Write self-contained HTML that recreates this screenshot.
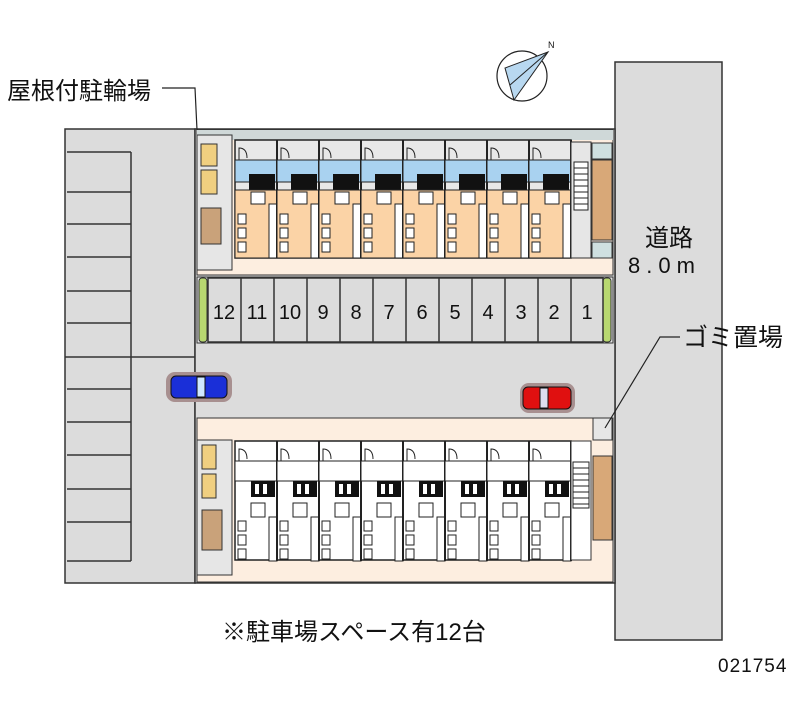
<!DOCTYPE html>
<html><head><meta charset="utf-8"><style>
body{margin:0;background:#fff;width:800px;height:727px;overflow:hidden}
svg{display:block}
text{font-family:"Liberation Sans","Noto Sans CJK JP",sans-serif;fill:#111}
</style></head><body>
<svg width="800" height="727" viewBox="0 0 800 727" xmlns="http://www.w3.org/2000/svg">
<defs>
<g id="tu">
  <rect x="0" y="20" width="42" height="22" fill="#a9d2f0" stroke="#222" stroke-width="1"/>
  <path d="M4 20 v-12 q8 0 8 10" fill="none" stroke="#222"/>
  <rect x="14" y="34" width="26" height="16" fill="#111"/>
  <rect x="0" y="50" width="42" height="68" fill="#fbd3a6" stroke="#222" stroke-width="1"/>
  <rect x="16" y="52" width="14" height="12" fill="#fff" stroke="#222"/>
  <rect x="3" y="74" width="8" height="10" fill="#fff" stroke="#222"/>
  <rect x="3" y="88" width="8" height="10" fill="#fff" stroke="#222"/>
  <rect x="3" y="102" width="8" height="10" fill="#fff" stroke="#222"/>
  <rect x="34" y="64" width="8" height="54" fill="#fff" stroke="#222"/>
  <line x1="42" y1="0" x2="42" y2="118" stroke="#222" stroke-width="2"/>
</g>
<g id="bu">
  <path d="M4 20 v-12 q8 0 8 10" fill="none" stroke="#222"/>
  <rect x="0" y="20" width="42" height="20" fill="#fff" stroke="#222"/>
  <rect x="16" y="40" width="24" height="16" fill="#111"/>
  <rect x="20" y="43" width="4" height="10" fill="#fff"/>
  <rect x="28" y="43" width="4" height="10" fill="#fff"/>
  <rect x="16" y="62" width="14" height="14" fill="#fff" stroke="#222"/>
  <rect x="3" y="80" width="8" height="10" fill="#fff" stroke="#222"/>
  <rect x="3" y="94" width="8" height="10" fill="#fff" stroke="#222"/>
  <rect x="3" y="108" width="8" height="10" fill="#fff" stroke="#222"/>
  <rect x="34" y="76" width="8" height="44" fill="#fff" stroke="#222"/>
  <line x1="42" y1="0" x2="42" y2="120" stroke="#222" stroke-width="2"/>
</g>
</defs>

<rect x="615" y="62" width="107" height="578" fill="#dcdcdc" stroke="#333" stroke-width="1.5"/>

<rect x="65" y="129" width="130" height="454" fill="#dcdcdc" stroke="#333" stroke-width="1.5"/>
<g stroke="#333" stroke-width="1.5" fill="none">
  <line x1="131" y1="152" x2="131" y2="561"/>
  <line x1="67" y1="152" x2="131" y2="152"/><line x1="67" y1="192" x2="131" y2="192"/>
  <line x1="67" y1="224" x2="131" y2="224"/><line x1="67" y1="257" x2="131" y2="257"/>
  <line x1="67" y1="291" x2="131" y2="291"/><line x1="67" y1="323" x2="131" y2="323"/>
  <line x1="65" y1="357" x2="195" y2="357"/><line x1="67" y1="389" x2="131" y2="389"/>
  <line x1="67" y1="422" x2="131" y2="422"/><line x1="67" y1="455" x2="131" y2="455"/>
  <line x1="67" y1="489" x2="131" y2="489"/><line x1="67" y1="522" x2="131" y2="522"/>
  <line x1="67" y1="561" x2="131" y2="561"/>
</g>

<rect x="195" y="129" width="420" height="454" fill="#dcdcdc" stroke="#333" stroke-width="1.5"/>

<rect x="197" y="130" width="416" height="145" fill="#fdeee0" stroke="#333" stroke-width="1"/>
<rect x="197" y="130" width="416" height="10" fill="#cfd8d8"/>
<rect x="197" y="135" width="35" height="135" fill="#e6e6e6" stroke="#333"/>
<rect x="201" y="144" width="16" height="22" fill="#f0cf80" stroke="#333"/>
<rect x="201" y="170" width="16" height="24" fill="#f0cf80" stroke="#333"/>
<rect x="201" y="208" width="20" height="36" fill="#c9a27a" stroke="#333"/>
<rect x="235" y="140" width="336" height="118" fill="#e8e8e8" stroke="#222" stroke-width="1.5"/>
<use href="#tu" x="235" y="140"/><use href="#tu" x="277" y="140"/><use href="#tu" x="319" y="140"/><use href="#tu" x="361" y="140"/>
<use href="#tu" x="403" y="140"/><use href="#tu" x="445" y="140"/><use href="#tu" x="487" y="140"/><use href="#tu" x="529" y="140"/>
<rect x="571" y="142" width="20" height="116" fill="#e6e6e6" stroke="#333"/>
<rect x="574" y="162" width="14" height="48" fill="#fff" stroke="#222"/>
<g stroke="#222"><line x1="574" y1="168" x2="588" y2="168"/><line x1="574" y1="174" x2="588" y2="174"/><line x1="574" y1="180" x2="588" y2="180"/><line x1="574" y1="186" x2="588" y2="186"/><line x1="574" y1="192" x2="588" y2="192"/><line x1="574" y1="198" x2="588" y2="198"/><line x1="574" y1="204" x2="588" y2="204"/></g>
<rect x="592" y="160" width="20" height="80" fill="#d8a878" stroke="#333"/>
<rect x="592" y="143" width="20" height="16" fill="#cfe0e0" stroke="#333"/>
<rect x="592" y="242" width="20" height="16" fill="#cfe0e0" stroke="#333"/>

<rect x="197" y="277" width="416" height="66" fill="#e4e4e4" stroke="#333"/>
<rect x="199" y="278" width="8" height="64" fill="#b8d870" stroke="#333" rx="3"/>
<rect x="603" y="278" width="8" height="64" fill="#b8d870" stroke="#333" rx="3"/>
<rect x="208" y="278" width="395" height="64" stroke="#333" stroke-width="1.5" fill="#dcdcdc"/>
<g stroke="#333" stroke-width="1.5">
  <line x1="241" y1="278" x2="241" y2="342"/><line x1="274" y1="278" x2="274" y2="342"/><line x1="307" y1="278" x2="307" y2="342"/>
  <line x1="340" y1="278" x2="340" y2="342"/><line x1="373" y1="278" x2="373" y2="342"/><line x1="406" y1="278" x2="406" y2="342"/>
  <line x1="439" y1="278" x2="439" y2="342"/><line x1="472" y1="278" x2="472" y2="342"/><line x1="505" y1="278" x2="505" y2="342"/>
  <line x1="538" y1="278" x2="538" y2="342"/><line x1="571" y1="278" x2="571" y2="342"/>
</g>
<g font-size="20" text-anchor="middle">
  <text x="224" y="319">12</text><text x="257" y="319">11</text><text x="290" y="319">10</text><text x="323" y="319">9</text>
  <text x="356" y="319">8</text><text x="389" y="319">7</text><text x="422" y="319">6</text><text x="455" y="319">5</text>
  <text x="488" y="319">4</text><text x="521" y="319">3</text><text x="554" y="319">2</text><text x="587" y="319">1</text>
</g>

<rect x="166" y="372" width="66" height="30" rx="9" fill="#a89090"/>
<rect x="171" y="376" width="56" height="22" rx="5" fill="#1a2fd8" stroke="#111"/>
<rect x="197" y="377" width="8" height="20" fill="#cfe8ff" stroke="#111"/>
<rect x="520" y="383" width="55" height="30" rx="9" fill="#a89090"/>
<rect x="523" y="387" width="48" height="22" rx="5" fill="#e01010" stroke="#111"/>
<rect x="540" y="388" width="8" height="20" fill="#dde" stroke="#111"/>

<rect x="197" y="418" width="416" height="164" fill="#fdeee0" stroke="#333"/>
<rect x="197" y="440" width="35" height="135" fill="#e6e6e6" stroke="#333"/>
<rect x="202" y="445" width="14" height="24" fill="#f0cf80" stroke="#333"/>
<rect x="202" y="474" width="14" height="24" fill="#f0cf80" stroke="#333"/>
<rect x="202" y="510" width="20" height="40" fill="#c9a27a" stroke="#333"/>
<rect x="235" y="441" width="336" height="119" fill="#fff" stroke="#222" stroke-width="1.5"/>
<use href="#bu" x="235" y="441"/><use href="#bu" x="277" y="441"/><use href="#bu" x="319" y="441"/><use href="#bu" x="361" y="441"/>
<use href="#bu" x="403" y="441"/><use href="#bu" x="445" y="441"/><use href="#bu" x="487" y="441"/><use href="#bu" x="529" y="441"/>
<rect x="571" y="441" width="20" height="119" fill="#fff" stroke="#333"/>
<rect x="573" y="462" width="16" height="46" fill="#fff" stroke="#222"/>
<g stroke="#222"><line x1="573" y1="468" x2="589" y2="468"/><line x1="573" y1="474" x2="589" y2="474"/><line x1="573" y1="480" x2="589" y2="480"/><line x1="573" y1="486" x2="589" y2="486"/><line x1="573" y1="492" x2="589" y2="492"/><line x1="573" y1="498" x2="589" y2="498"/><line x1="573" y1="504" x2="589" y2="504"/></g>
<rect x="593" y="456" width="19" height="84" fill="#d8a878" stroke="#333"/>
<rect x="593" y="418" width="19" height="22" fill="#e6e6e6" stroke="#333"/>

<polyline points="162,88 195,88 197,130" fill="none" stroke="#222" stroke-width="1.2"/>
<polyline points="680,337 660,337 605,428" fill="none" stroke="#222" stroke-width="1.2"/>

<circle cx="522" cy="76" r="25" fill="#fff" stroke="#222" stroke-width="1.2"/>
<polygon points="548,52 505,68 514,100" fill="#b8d8f0" stroke="#222"/>
<line x1="548" y1="52" x2="510" y2="85" stroke="#222"/>
<text x="548" y="48" font-size="9">N</text>

<text x="7" y="99" font-size="24">屋根付駐輪場</text>
<text x="645" y="246" font-size="24">道路</text>
<text x="628" y="273" font-size="22" letter-spacing="6">8.0m</text>
<text x="683" y="346" font-size="25">ゴミ置場</text>
<text x="222" y="640" font-size="24">※駐車場スペース有12台</text>
<text x="718" y="672" font-size="19" letter-spacing="1">021754</text>
</svg>
</body></html>
